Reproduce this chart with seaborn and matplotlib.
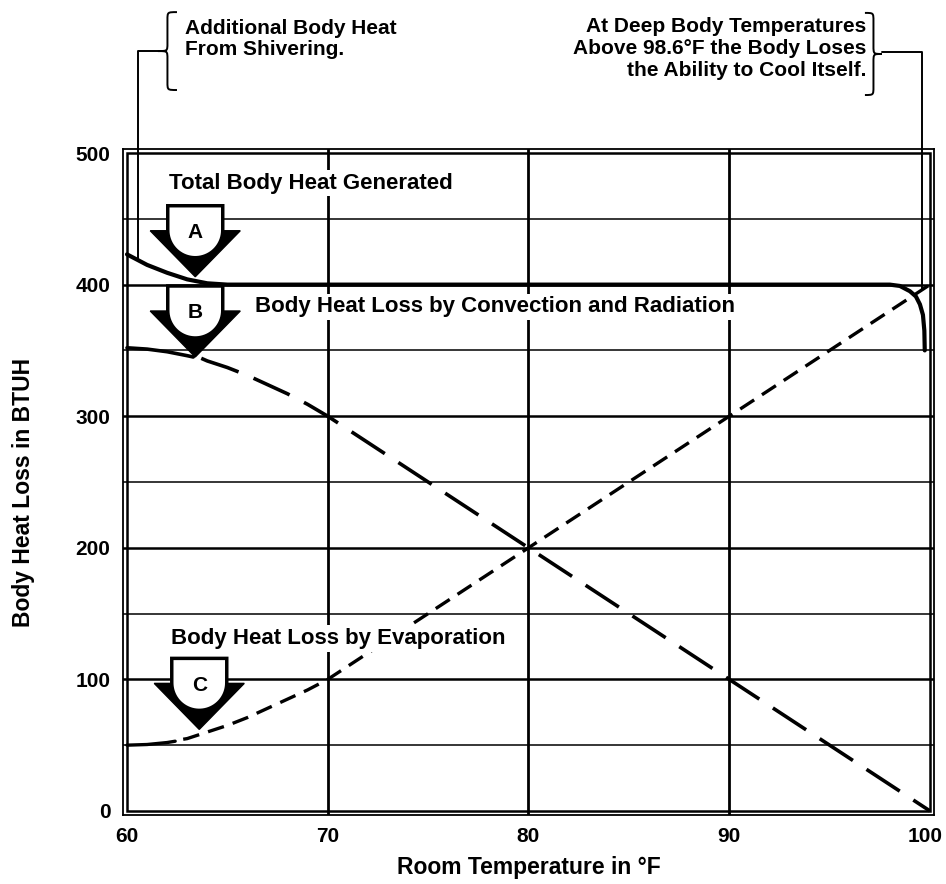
import numpy as np
import pandas as pd
import matplotlib
matplotlib.use("Agg")
import matplotlib.pyplot as plt
import matplotlib.transforms as mtransforms
from matplotlib.patches import Polygon, Rectangle, PathPatch
from matplotlib.path import Path
import seaborn as sns

# Values: room temperature (F) vs body heat (BTUH)
total_x = [60, 61, 62, 63, 64, 65, 70, 80, 90, 98, 98.5, 99, 99.3, 99.5, 99.65, 99.72, 99.74]
total_y = [423, 415, 409, 404, 401, 400, 400, 400, 400, 400, 399, 395, 391, 385, 377, 365, 350]

conv_solid_x = [60, 61, 62, 63, 63.3]
conv_solid_y = [352, 351, 349, 346, 345]
conv_dash_x = [63.7, 64, 65, 66, 67, 68, 69, 70, 80, 90, 100]
conv_dash_y = [344, 342, 337, 331, 324, 317, 309, 300, 200, 100, 0]

evap_solid_x = [60, 61, 62, 62.4]
evap_solid_y = [50, 50.5, 52, 53]
evap_dash_x = [62.8, 63, 64, 65, 66, 67, 68, 69, 70, 80, 90, 100]
evap_dash_y = [54.5, 55, 60, 65, 71, 78, 85, 92, 100, 200, 300, 400]

x_ticks = [60, 70, 80, 90, 100]
y_ticks = [0, 100, 200, 300, 400, 500]

arrow_labels = ["A", "B", "C"]
arrow_x = [63.4, 63.4, 63.6]
arrow_y = [406, 345, 62]

curve_labels = ["Total Body Heat Generated",
                "Body Heat Loss by Convection and Radiation",
                "Body Heat Loss by Evaporation"]
curve_label_x = [62.1, 66.4, 62.2]
curve_label_y = [477, 383, 131]

sns.set_theme(style="white")
plt.rcParams['font.family'] = ['Liberation Sans', 'DejaVu Sans']
plt.rcParams['font.weight'] = 'bold'
plt.rcParams['text.color'] = 'black'
plt.rcParams['axes.labelcolor'] = 'black'
plt.rcParams['xtick.color'] = 'black'
plt.rcParams['ytick.color'] = 'black'

fig = plt.figure(figsize=(9.46, 8.84), dpi=100)
ax = fig.add_axes([0.1300, 0.0781, 0.8573, 0.7533])
ax.set_xlim(59.80, 100.2)
ax.set_ylim(-3.04, 503.04)

# grid: heavy every 100 / 10F, light every 50
for v in [100, 200, 300, 400]:
    ax.axhline(v, color="black", lw=1.8, zorder=1)
for v in [50, 150, 250, 350, 450]:
    ax.axhline(v, color="black", lw=1.1, zorder=1)
for v in [70, 80, 90]:
    ax.axvline(v, color="black", lw=2.0, zorder=1)
ax.add_patch(Rectangle((60, 0), 40, 500, fill=False, lw=1.8, ec="black", zorder=2))
for s in ax.spines.values():
    s.set_color("black")
    s.set_linewidth(1.3)

# curves
sns.lineplot(x=total_x, y=total_y, ax=ax, color="black", lw=3, sort=False, estimator=None, zorder=3)
sns.lineplot(x=conv_solid_x, y=conv_solid_y, ax=ax, color="black", lw=2.6, sort=False, estimator=None, zorder=3)
sns.lineplot(x=conv_dash_x, y=conv_dash_y, ax=ax, color="black", lw=2.6, sort=False, estimator=None,
             dashes=(11, 4.5), zorder=3)
sns.lineplot(x=evap_solid_x, y=evap_solid_y, ax=ax, color="black", lw=2.4, sort=False, estimator=None, zorder=3)
sns.lineplot(x=evap_dash_x, y=evap_dash_y, ax=ax, color="black", lw=2.4, sort=False, estimator=None,
             dashes=(5, 2.8), zorder=3)

ax.set_xticks(x_ticks)
ax.set_yticks(y_ticks)
ax.tick_params(length=0, labelsize=15, pad=9)
ax.tick_params(axis="y", pad=9)
for lab in ax.get_xticklabels() + ax.get_yticklabels():
    lab.set_fontweight("bold")
# keep the last x label inside the figure
last = ax.get_xticklabels()[-1]
last.set_transform(last.get_transform() + mtransforms.ScaledTranslation(-0.05, 0, fig.dpi_scale_trans))
ax.set_xlabel("Room Temperature in °F", fontsize=16.5, fontweight="bold")
ax.set_ylabel("Body Heat Loss in BTUH", fontsize=16.5, fontweight="bold")
ax.xaxis.set_label_coords(0.5, -0.062)
ax.yaxis.set_label_coords(-0.108, 0.485)

# curve captions (white behind them, lines break around the words)
for t, x, y in zip(curve_labels, curve_label_x, curve_label_y):
    ax.text(x, y, t, fontsize=16, fontweight="bold", ha="left", va="center", zorder=5,
            bbox=dict(boxstyle="square,pad=0.12", fc="white", ec="none"))


# arrow badges (shape in pixels, tip at the data point)
def badge(x, y, letter):
    tr = (mtransforms.Affine2D().scale(0.01) + fig.dpi_scale_trans
          + mtransforms.ScaledTranslation(x, y, ax.transData))
    tri = Polygon([(-45, 46), (45, 46), (0, 0)], closed=True, fc="black", ec="black",
                  lw=1, transform=tr, zorder=6)
    ax.add_patch(tri)
    ang = np.linspace(np.pi, 2 * np.pi, 40)
    arc = np.column_stack([27.5 * np.cos(ang), 46.5 + 27.5 * np.sin(ang)])
    pts = np.vstack([[(-27.5, 71)], arc, [(27.5, 71)]])
    ax.add_patch(Polygon(pts, closed=True, fc="white", ec="black", lw=2.5,
                         transform=tr, zorder=7))
    ax.text(0, 44, letter, transform=tr, fontsize=15, fontweight="bold",
            ha="center", va="center", zorder=8)


for lab, x, y in zip(arrow_labels, arrow_x, arrow_y):
    badge(x, y, lab)


# braces above the plot
def brace(tip_x, tip_y, half_h, width, direction):
    u = [1, 0.5, 0.5, 0.5, 0.5, 0.5, 0.5, 0, 0.5, 0.5, 0.5, 0.5, 0.5, 0.5, 1]
    v = [1, 1, 1, 0.8, 0.2, 0, 0, 0, 0, 0, -0.2, -0.8, -1, -1, -1]
    codes = [Path.MOVETO, Path.CURVE4, Path.CURVE4, Path.CURVE4, Path.LINETO,
             Path.CURVE4, Path.CURVE4, Path.CURVE4, Path.CURVE4, Path.CURVE4, Path.CURVE4,
             Path.LINETO, Path.CURVE4, Path.CURVE4, Path.CURVE4]
    verts = [(tip_x + direction * a * width, tip_y + b * half_h) for a, b in zip(u, v)]
    ax.add_patch(PathPatch(Path(verts, codes), fill=False, lw=1.4, ec="black", clip_on=False))


ax.plot([60.55, 60.55, 61.54], [419, 577.5, 577.5], color="black", lw=1.4, clip_on=False)
brace(61.54, 577.5, 29.6, 0.95, 1)
ax.plot([99.6, 99.6, 97.61], [396, 576.7, 576.7], color="black", lw=1.4, clip_on=False)
brace(97.61, 575.3, 31.2, 0.85, -1)

fig.text(185 / 946, 1 - 39 / 884, "Additional Body Heat\nFrom Shivering.", fontsize=15,
         fontweight="bold", ha="left", va="center", linespacing=1.15)
fig.text(866 / 946, 1 - 48 / 884,
         "At Deep Body Temperatures\nAbove 98.6°F the Body Loses\nthe Ability to Cool Itself.",
         fontsize=15, fontweight="bold", ha="right", va="center", linespacing=1.2,
         multialignment="right")

fig.savefig("out.png", dpi=100)
